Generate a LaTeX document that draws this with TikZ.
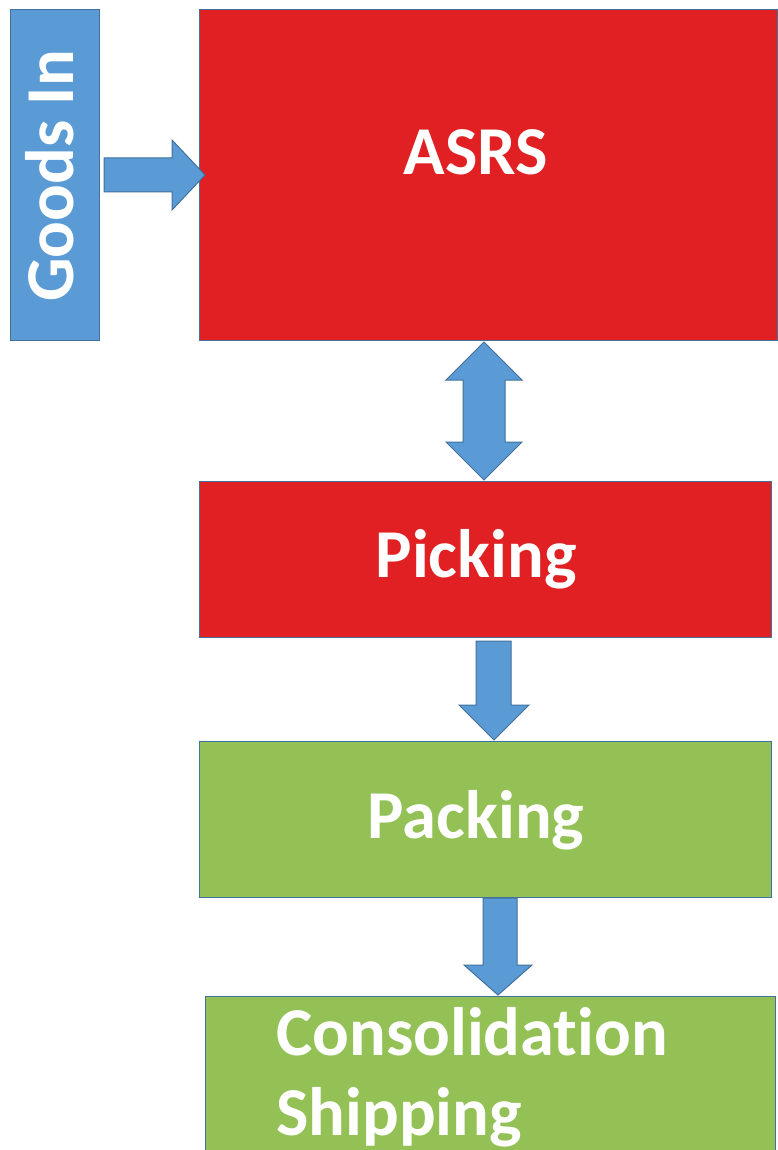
\documentclass[tikz,border=0pt]{standalone}
\usepackage{fontspec}
\setmainfont[Ligatures=NoCommon]{Carlito}
\usetikzlibrary{calc}
\definecolor{bluefill}{HTML}{5B9BD5}
\definecolor{blueline}{HTML}{41719C}
\definecolor{redfill}{HTML}{E02022}
\definecolor{greenfill}{HTML}{93C155}
\tikzset{
  box/.style={draw=blueline, line width=1pt, inner sep=0pt, outer sep=0pt, anchor=north west},
  lbl/.style={text=white, font=\fontsize{68.5}{80}\selectfont\bfseries, inner sep=0pt},
  fat/.style={fill=bluefill, draw=blueline, line width=1pt, line join=miter},
}
\begin{document}
\begin{tikzpicture}[x=1pt,y=-1pt]
\useasboundingbox (0,0) rectangle (778,1150);
\clip (0,0) rectangle (778,1150);
\fill[white] (0,0) rectangle (778,1150);
% boxes
\node[box, fill=bluefill, minimum width=89pt, minimum height=330pt] (goods) at (10,10) {};
\node[box, fill=redfill, minimum width=578pt, minimum height=330pt] (asrs) at (199,10) {};
\node[box, fill=redfill, minimum width=572pt, minimum height=156pt] (picking) at (199,481) {};
\node[box, fill=greenfill, minimum width=572pt, minimum height=156pt] (packing) at (199,741) {};
\node[box, fill=greenfill, minimum width=570pt, minimum height=200pt] (cons) at (205,996) {};
% labels
\node[lbl, rotate=90, anchor=base] (goodst) at (73,176) {Goods In};
\node[lbl, anchor=base] (asrst) at (476,175) {ASRS};
\node[lbl, anchor=base] (pickingt) at (476,577) {Picking};
\node[lbl, anchor=base] (packingt) at (476,838) {Packing};
\node[lbl, anchor=base west] (const) at (276,1055) {Consolidation};
\node[lbl, anchor=base west] (shipt) at (276,1135) {Shipping};
% arrow goods -> asrs
\coordinate (a1s) at ($(goods.east)+(5,0)$);
\coordinate (a1t) at ($(asrs.west)+(6,0)$);
\draw[fat] (a1s |- 0,158) -- (172,158) -- (172,140) -- (a1t |- 0,175) -- (172,210) -- (172,192) -- (a1s |- 0,192) -- cycle;
% double arrow asrs <-> picking
\coordinate (d1) at (484,342);
\coordinate (d2) at (484,480);
\draw[fat] (d1) -- (522,380) -- (505,380) -- (505,442) -- (522,442) -- (d2) -- (446,442) -- (463,442) -- (463,380) -- (446,380) -- cycle;
% arrow picking -> packing
\coordinate (p1) at (494,641);
\coordinate (p2) at (494,740);
\draw[fat] (476,641) -- (511,641) -- (511,705) -- (529,705) -- (p2) -- (459,705) -- (476,705) -- cycle;
% arrow packing -> consolidation
\coordinate (q2) at (498,995);
\draw[fat] (483,898) -- (517,898) -- (517,965) -- (532,965) -- (q2) -- (464,965) -- (483,965) -- cycle;
\end{tikzpicture}
\end{document}
